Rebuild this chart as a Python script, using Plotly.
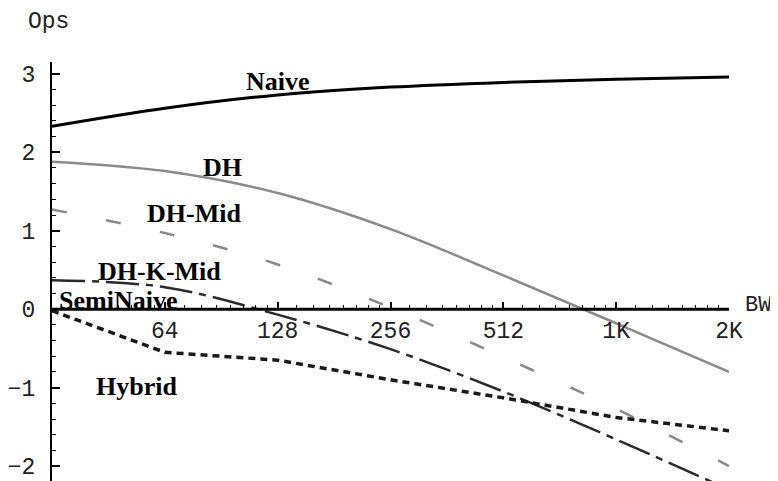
import plotly.graph_objects as go

# ---- data ----
BW = [32, 64, 128, 256, 512, 1024, 2048]
naive = [2.33, 2.56, 2.73, 2.83, 2.89, 2.93, 2.96]
dh = [1.88, 1.76, 1.48, 1.02, 0.43, -0.18, -0.80]
dh_mid = [1.27, 0.97, 0.57, 0.02, -0.61, -1.27, -2.00]
dh_k_mid = [0.37, 0.28, -0.07, -0.51, -1.05, -1.66, -2.30]
seminaive = [0, 0, 0, 0, 0, 0, 0]
hybrid = [-0.02, -0.55, -0.65, -0.90, -1.13, -1.38, -1.55]

x_tickvals = [64, 128, 256, 512, 1024, 2048]
x_ticktext = ["64", "128", "256", "512", "1K", "2K"]
y_tickvals = [-2, -1, 0, 1, 2, 3]

Y_MIN, Y_MAX = -2.19, 3.15

# small minor ticks along the BW axis (8 steps per octave)
x_minor = [b * (1 + k / 8) for b in BW[:-1] for k in range(1, 8)]

fig = go.Figure()

fig.add_trace(go.Scatter(x=BW, y=dh, mode="lines", name="DH",
                         line=dict(color="#8a8a8a", width=2.5, shape="spline")))
fig.add_trace(go.Scatter(x=BW, y=dh_mid, mode="lines", name="DH-Mid",
                         line=dict(color="#8a8a8a", width=2.5, shape="spline",
                                   dash="15px,40px")))
fig.add_trace(go.Scatter(x=BW, y=dh_k_mid, mode="lines", name="DH-K-Mid",
                         line=dict(color="#2a2a2a", width=2.5, shape="spline",
                                   dash="33px,7px,7px,7px")))
fig.add_trace(go.Scatter(x=BW, y=hybrid, mode="lines", name="Hybrid",
                         line=dict(color="#1a1a1a", width=3.5, dash="7px,5px")))
fig.add_trace(go.Scatter(x=BW, y=seminaive, mode="lines", name="SemiNaive",
                         line=dict(color="black", width=3)))
fig.add_trace(go.Scatter(x=BW, y=naive, mode="lines", name="Naive",
                         line=dict(color="black", width=3, shape="spline")))

# page has an 8px body margin: compensate so the plot area sits at
# x 52..729, y 62..481 in the page
OFF = 8
PAGE_W, PAGE_H = 778, 481
W, H = PAGE_W - OFF, PAGE_H - OFF
ML, MR, MT, MB = 52 - OFF, 49, 62 - OFF, 0
PL, PR, PT, PB = 52, 729, 62, 481  # plot area in page pixels
PW = PR - PL
PH = PB - PT


def px(x):
    return (x - PL) / PW


def py(y):
    return (PB - y) / PH


tick_font = dict(family="Liberation Mono, Courier New, monospace", size=23, color="#222")
lab_font = dict(family="Liberation Serif, Times New Roman, serif", size=26, color="black")

labels = [
    ("Naive", 278, 81),
    ("DH", 222, 167),
    ("DH-Mid", 194, 213),
    ("DH-K-Mid", 159, 271),
    ("SemiNaive", 118, 300),
    ("Hybrid", 136, 386),
]
annotations = []
for t, x, y in labels:
    annotations.append(dict(text="<b>%s</b>" % t, x=px(x), y=py(y), xref="paper", yref="paper",
                            xanchor="center", yanchor="middle", showarrow=False, font=lab_font))
annotations.append(dict(text="Ops", x=px(26), y=py(22), xref="paper", yref="paper",
                        xanchor="left", yanchor="middle", showarrow=False, font=tick_font))
annotations.append(dict(text="BW", x=px(744), y=py(305), xref="paper", yref="paper",
                        xanchor="left", yanchor="middle", showarrow=False,
                        font=dict(tick_font, size=22), borderpad=0))

zero_pos = (0 - Y_MIN) / (Y_MAX - Y_MIN)

fig.update_layout(
    template="none",
    width=W, height=H,
    margin=dict(l=ML, r=MR, t=MT, b=MB, pad=0),
    paper_bgcolor="white", plot_bgcolor="white",
    showlegend=False,
    annotations=annotations,
    xaxis=dict(
        type="log", range=[1.50515, 3.31133], automargin=False,
        anchor="free", position=zero_pos,
        showline=True, linecolor="black", linewidth=2,
        ticks="inside", ticklen=6, tickwidth=1.5, tickcolor="black",
        tickmode="array", tickvals=x_tickvals, ticktext=x_ticktext,
        tickfont=tick_font, showgrid=False, zeroline=False,
        minor=dict(ticks="inside", ticklen=3, tickwidth=1, tickcolor="black",
                   tickmode="array", tickvals=x_minor, showgrid=False),
    ),
    yaxis=dict(
        range=[Y_MIN, Y_MAX], automargin=False,
        showline=True, linecolor="black", linewidth=2,
        ticks="inside", ticklen=8, tickwidth=1.5, tickcolor="black",
        tickmode="array", tickvals=y_tickvals,
        tickfont=tick_font, ticklabelstandoff=10, ticklabeloverflow="allow",
        minor=dict(ticks="inside", ticklen=4, tickwidth=1, tickcolor="black", dtick=0.2, showgrid=False),
        showgrid=False, zeroline=False,
    ),
)

fig.write_html("out.html")
